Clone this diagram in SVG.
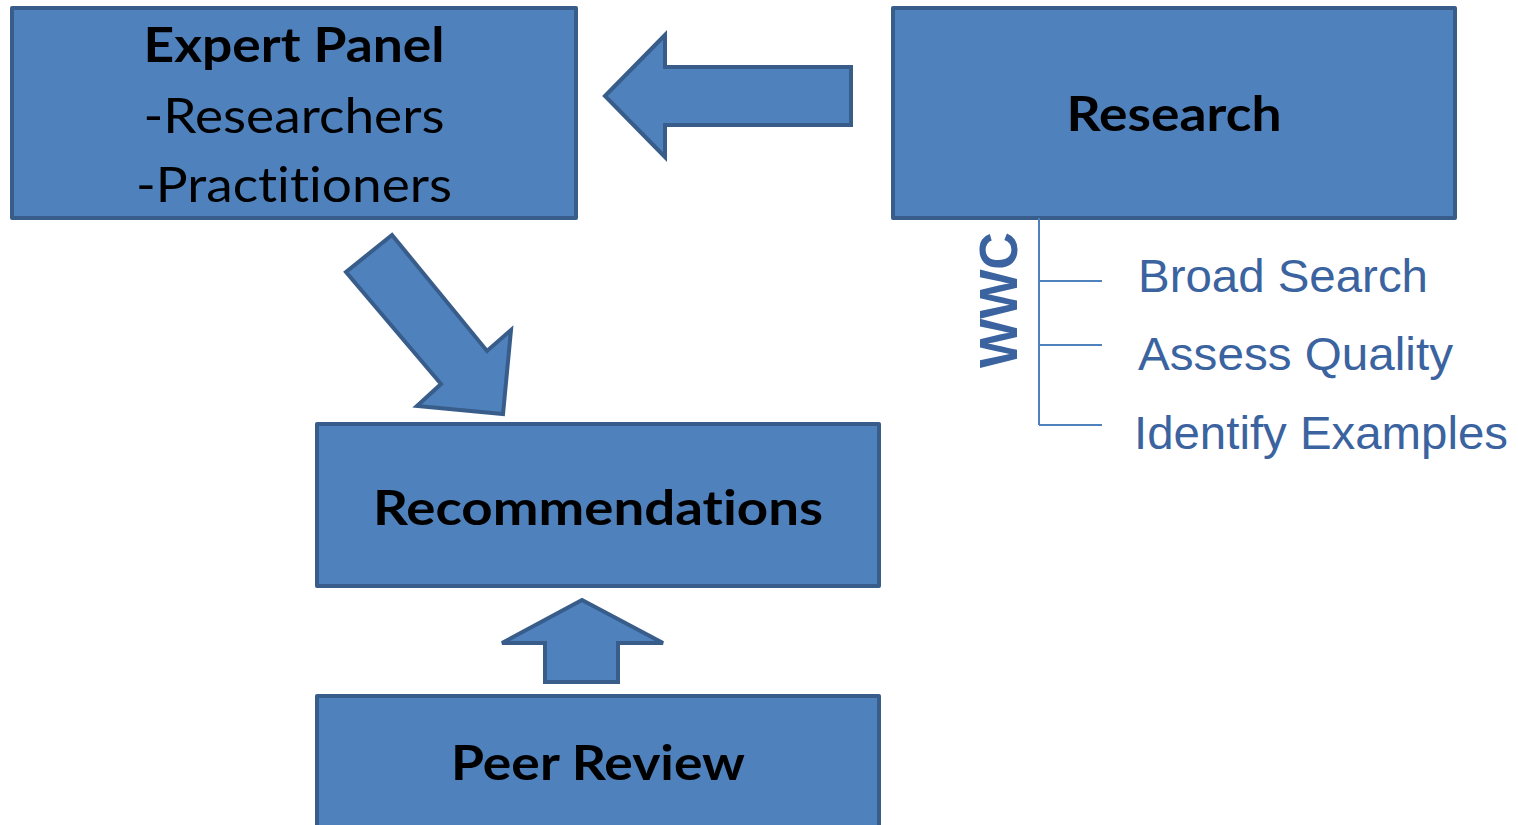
<svg xmlns="http://www.w3.org/2000/svg" width="1518" height="825" viewBox="0 0 1518 825">
<style>
.box{fill:#4f81bd;stroke:#385d8a;stroke-width:4;stroke-linejoin:round}
.arr{fill:#4f81bd;stroke:#385d8a;stroke-width:4;stroke-linejoin:miter}
.bt{font-family:Lato,"Open Sans",sans-serif;font-weight:bold;font-size:48px;fill:#000;text-anchor:middle;font-variant-ligatures:none;font-feature-settings:"liga" 0,"clig" 0,"dlig" 0}
.nt{font-family:Lato,"Open Sans",sans-serif;font-size:48px;fill:#000;text-anchor:middle;font-variant-ligatures:none;font-feature-settings:"liga" 0,"clig" 0,"dlig" 0}
.lbl{font-family:"Liberation Sans",Arial,sans-serif;font-size:46px;fill:#3a63a0}
.br{stroke:#4f81bd;stroke-width:2;fill:none}
</style>
<rect width="1518" height="825" fill="#fff"/>
<g id="connectors">
<polygon class="arr" points="605,96 665,35 665,67 851,67 851,125 665,125 665,157"/>
<polygon class="arr" points="392,235 487,351 511,330 503,414 417,406 441,384 346,272"/>
<polygon class="arr" points="582,600 663,643 618,643 618,682 545,682 545,643 502,643"/>
</g>
<g id="expert-panel">
<rect class="box" x="12" y="8" width="564" height="210"/>
<text class="bt" x="294" y="62" textLength="301" lengthAdjust="spacingAndGlyphs">Expert Panel</text>
<text class="nt" x="294" y="133" textLength="301" lengthAdjust="spacingAndGlyphs">-Researchers</text>
<text class="nt" x="294" y="202" textLength="316" lengthAdjust="spacingAndGlyphs">-Practitioners</text>
</g>
<g id="research">
<rect class="box" x="893" y="8" width="562" height="210"/>
<text class="bt" x="1174" y="131" textLength="215" lengthAdjust="spacingAndGlyphs">Research</text>
</g>
<g id="recommendations">
<rect class="box" x="317" y="424" width="562" height="162"/>
<text class="bt" x="598" y="525" textLength="450" lengthAdjust="spacingAndGlyphs">Recommendations</text>
</g>
<g id="peer-review">
<rect class="box" x="317" y="696" width="562" height="140"/>
<text class="bt" x="598" y="780" textLength="294" lengthAdjust="spacingAndGlyphs">Peer Review</text>
</g>
<g id="wwc">
<path class="br" d="M1039,218 V425 M1039,281 H1102 M1039,345 H1102 M1039,425 H1102"/>
<text transform="translate(1017,300) rotate(-90)" font-family="Liberation Sans,Arial,sans-serif" font-weight="bold" font-size="54" fill="#3a63a0" text-anchor="middle" textLength="136" lengthAdjust="spacingAndGlyphs">WWC</text>
<text class="lbl" x="1138" y="292" textLength="290" lengthAdjust="spacingAndGlyphs">Broad Search</text>
<text class="lbl" x="1138" y="370" textLength="315" lengthAdjust="spacingAndGlyphs">Assess Quality</text>
<text class="lbl" x="1134" y="449" textLength="374" lengthAdjust="spacingAndGlyphs">Identify Examples</text>
</g>
</svg>
